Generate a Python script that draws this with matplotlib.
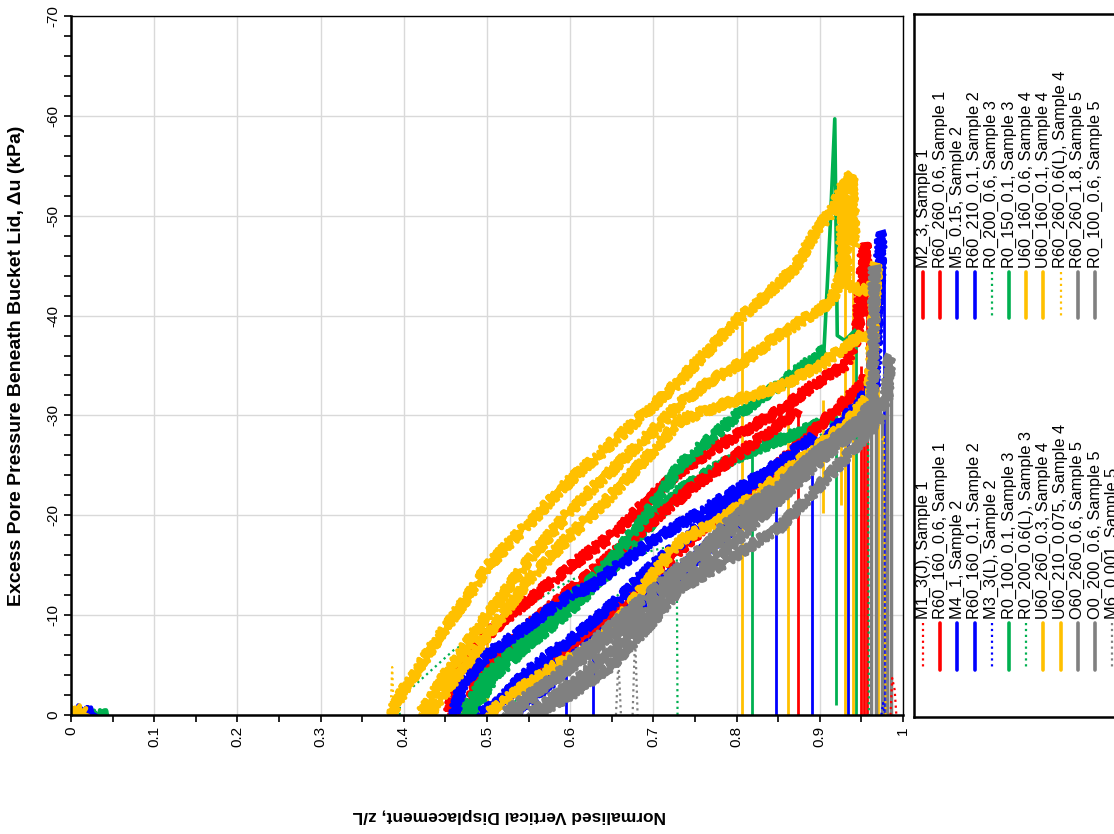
import numpy as np
import matplotlib
matplotlib.use('Agg')
import matplotlib.pyplot as plt

plt.rcParams['font.family'] = ['Liberation Sans', 'DejaVu Sans']
plt.rcParams['axes.unicode_minus'] = False

RED = '#FF0000'
BLUE = '#0000FF'
GREEN = '#00B050'
YELLOW = '#FFC000'
GREY = '#808080'
nan = np.nan

# ---- series (z/L, du kPa) ----
# yellow
u60_160_06_x = [0, 0.004, 0.012, 0.02, nan, 0.385, 0.39, 0.40, 0.42, 0.45, 0.48, 0.50, 0.53, 0.56, 0.60, 0.64,
                0.68, 0.72, 0.76, 0.80, 0.84, 0.87, 0.90, 0.915, 0.928, 0.938, 0.941]
u60_160_06_y = [-0.8, -0.3, -0.5, 0, nan, 0, -1.0, -2.5, -5.0, -8.8, -12.2, -14.8, -17.5, -20.0, -23.5, -26.5,
                -29.5, -32.5, -36.0, -39.5, -42.3, -44.8, -49.0, -50.5, -52.9, -54.1, -47.0]
u60_160_01_x = [0.42, 0.45, 0.50, 0.55, 0.60, 0.65, 0.70, 0.732, 0.77, 0.812, 0.85, 0.892, 0.915, 0.926, 0.929,
                0.932, 0.952, 0.965]
u60_160_01_y = [0, -4.0, -10.0, -15.5, -20.5, -24.5, -28.5, -31.2, -33.5, -35.6, -38.0, -40.2, -41.5, -44.0, -53.0,
                -43.0, -42.5, -43.0]
u60_210_0075_x = [0.43, 0.46, 0.50, 0.55, 0.60, 0.65, 0.70, 0.732, 0.78, 0.852, 0.90, 0.952, 0.958]
u60_210_0075_y = [0, -3.5, -8.0, -13.5, -18.0, -22.0, -26.5, -29.5, -31.0, -32.9, -35.0, -38.2, -37.5]
u60_260_03_x = [0.50, 0.53, 0.572, 0.62, 0.652, 0.69, 0.732, 0.78, 0.83, 0.892, 0.93, 0.96, 0.968]
u60_260_03_y = [0, -2.0, -4.5, -6.5, -8.8, -13.0, -17.5, -19.5, -22.5, -26.5, -29.0, -32.0, -45.2]
r60_260_06L_x = [0.384, 0.386, 0.388, nan, 0.975, 0.977, 0.979]
r60_260_06L_y = [0, -4.8, 0, nan, -27.5, -28.0, 0]

# red
r60_260_06_x = [0.455, 0.46, 0.47, 0.48, 0.50, 0.52, 0.55, 0.58, 0.61, 0.65, 0.70, 0.732, 0.77, 0.80, 0.852,
                0.90, 0.93, 0.945, 0.950, 0.954, 0.957]
r60_260_06_y = [0, -3.0, -5.0, -6.5, -8.0, -9.5, -11.5, -13.5, -15.5, -18.0, -22.0, -24.4, -26.5, -28.0, -30.5,
                -33.5, -35.0, -38.0, -43.0, -47.2, -40.0]
m2_3_x = [0.47, 0.50, 0.55, 0.60, 0.65, 0.70, 0.75, 0.80, 0.85, 0.874]
m2_3_y = [0, -5.0, -9.0, -12.5, -16.0, -19.5, -23.0, -26.0, -29.0, -30.5]
r60_160_06_x = [0.50, 0.55, 0.60, 0.65, 0.70, 0.75, 0.80, 0.85, 0.90, 0.95, 0.953]
r60_160_06_y = [0, -3.5, -7.0, -10.0, -14.0, -18.0, -21.5, -25.0, -29.0, -33.0, -34.0]
m1_3j_x = [0.985, 0.987, 0.990, 0.992]
m1_3j_y = [0, -3.7, -2.5, 0]

# green
r0_150_01_x = [0.47, 0.50, 0.53, 0.56, 0.60, 0.65, 0.70, 0.732, 0.80, 0.85, 0.905]
r0_150_01_y = [0, -4.0, -6.5, -8.5, -11.5, -15.5, -21.0, -25.0, -30.0, -33.0, -36.5]
r0_150_01_spike_x = [0.905, 0.912, 0.918, 0.921, 0.93, 0.942]
r0_150_01_spike_y = [-36.5, -48.0, -59.7, -38.0, -37.5, -38.5]
r0_100_01_x = [0, 0.045, nan, 0.48, 0.51, 0.552, 0.60, 0.652, 0.70, 0.732, 0.78, 0.819, 0.86, 0.89, 0.918]
r0_100_01_y = [0, 0, nan, 0, -4.0, -7.2, -10.5, -14.8, -19.5, -22.5, -25.0, -26.5, -27.8, -28.8, -30.0]
r0_200_06L_x = [0.395, 0.396, 0.40, 0.42, 0.44, 0.46, 0.48, 0.50, 0.52, 0.55, 0.60, 0.65, 0.70, 0.728, 0.729]
r0_200_06L_y = [0, -3.0, -2.0, -3.5, -5.0, -6.5, -7.5, -8.0, -9.5, -11.0, -13.5, -15.0, -16.5, -17.0, 0]
r0_200_06_x = [0.52, 0.60, 0.70, 0.80, 0.90, 0.958, 0.959]
r0_200_06_y = [0, -8.0, -15.0, -22.0, -28.0, -31.0, 0]

# blue
m5_015_x = [0.49, 0.54, 0.61, 0.66, 0.70, 0.72, 0.76, 0.80, 0.85, 0.90, 0.94, 0.965, 0.974]
m5_015_y = [0, -2.8, -6.2, -9.5, -12.5, -14.0, -16.5, -20.0, -23.0, -27.0, -30.0, -33.0, -48.4]
m4_1_x = [0.008, 0.013, 0.018, 0.026, 0.03, nan, 0.46, 0.47, 0.50, 0.55, 0.60, 0.628, 0.65, 0.70, 0.75, 0.80,
          0.847]
m4_1_y = [-0.2, -0.6, -0.3, -0.3, 0, nan, 0, -3.0, -6.0, -9.0, -12.0, -13.0, -14.5, -17.5, -20.0, -22.5, -25.0]
r60_160_01_x = [0.50, 0.55, 0.60, 0.65, 0.70, 0.75, 0.80, 0.85, 0.891]
r60_160_01_y = [0, -4.5, -7.5, -11.0, -15.0, -18.5, -22.0, -25.0, -28.0]
r60_210_01_x = [0.53, 0.56, 0.60, 0.65, 0.70, 0.75, 0.80, 0.85, 0.90, 0.934, 0.969]
r60_210_01_y = [0, -2.0, -5.0, -8.5, -12.0, -15.5, -19.0, -22.5, -27.0, -30.0, -33.5]
m3_3l_x = [0.455, 0.46, 0.47, 0.48, 0.49, 0.50, nan, 0.974, 0.976, 0.978]
m3_3l_y = [0, -2.0, -4.0, -5.0, -4.5, -6.0, nan, 0, -1.2, 0]

# grey
o60_260_06_x = [0.52, 0.55, 0.58, 0.612, 0.65, 0.69, 0.732, 0.78, 0.83, 0.892, 0.94, 0.961]
o60_260_06_y = [0, -2.0, -3.5, -5.5, -8.0, -10.5, -14.0, -17.5, -21.0, -26.0, -29.0, -31.0]
o0_200_06_x = [0.53, 0.57, 0.61, 0.65, 0.70, 0.75, 0.80, 0.85, 0.90, 0.95, 0.963, 0.966]
o0_200_06_y = [0, -3.0, -6.0, -9.0, -12.5, -16.0, -20.0, -23.0, -26.5, -29.5, -31.0, -44.9]
r60_260_18_x = [0.56, 0.60, 0.65, 0.70, 0.732, 0.78, 0.852, 0.90, 0.95, 0.975]
r60_260_18_y = [0, -2.0, -5.0, -9.5, -12.7, -15.0, -18.8, -23.0, -27.5, -30.0]
r0_100_06_x = [0.55, 0.60, 0.65, 0.70, 0.75, 0.80, 0.85, 0.90, 0.95, 0.98, 0.984]
r0_100_06_y = [0, -3.0, -6.5, -10.5, -14.0, -17.5, -21.5, -25.5, -29.0, -31.5, -36.0]
m6_0001_x = [0.655, 0.658, 0.661, nan, 0.675, 0.678, 0.681]
m6_0001_y = [0, -5.5, 0, nan, 0, -8.0, 0]

# sudden drops to zero seen as vertical lines: x, top, bottom
yellow_drop_x = [0.49, 0.50, 0.806, 0.862, 0.904, 0.926, 0.930, 0.940, 0.970]
yellow_drop_top = [-7.8, -11.0, -39.5, -38.5, -31.5, -32.0, -48.0, -50.0, -44.0]
yellow_drop_bot = [0, 0, 0, 0, -20.2, -21.0, 0, 0, 0]
red_drop_x = [0.465, 0.48, 0.874, 0.950, 0.953, 0.957]
red_drop_top = [-4.0, -6.0, -30.5, -35.0, -34.0, -40.0]
blue_drop_x = [0.595, 0.628, 0.847, 0.891, 0.934, 0.969, 0.977]
blue_drop_top = [-5.5, -9.0, -25.0, -28.0, -30.0, -33.5, -45.0]
green_drop_x = [0.819, 0.919, 0.944]
green_drop_top = [-27.0, -30.0, -38.5]
green_drop_bot = [0, -1.0, 0]
grey_drop_x = [0.961, 0.968, 0.975, 0.981, 0.986]
grey_drop_top = [-31.0, -44.0, -30.0, -31.5, -35.0]

# legend entries, two groups as in the picture
legend_lower = [
    ('M1_3(J), Sample 1', RED, ':'),
    ('R60_160_0.6, Sample 1', RED, '-'),
    ('M4_1, Sample 2', BLUE, '-'),
    ('R60_160_0.1, Sample 2', BLUE, '-'),
    ('M3_3(L), Sample 2', BLUE, ':'),
    ('R0_100_0.1, Sample 3', GREEN, '-'),
    ('R0_200_0.6(L), Sample 3', GREEN, ':'),
    ('U60_260_0.3, Sample 4', YELLOW, '-'),
    ('U60_210_0.075, Sample 4', YELLOW, '-'),
    ('O60_260_0.6, Sample 5', GREY, '-'),
    ('O0_200_0.6, Sample 5', GREY, '-'),
    ('M6_0.001, Sample 5', GREY, ':'),
]
legend_upper = [
    ('M2_3, Sample 1', RED, '-'),
    ('R60_260_0.6, Sample 1', RED, '-'),
    ('M5_0.15, Sample 2', BLUE, '-'),
    ('R60_210_0.1, Sample 2', BLUE, '-'),
    ('R0_200_0.6, Sample 3', GREEN, ':'),
    ('R0_150_0.1, Sample 3', GREEN, '-'),
    ('U60_160_0.6, Sample 4', YELLOW, '-'),
    ('U60_160_0.1, Sample 4', YELLOW, '-'),
    ('R60_260_0.6(L), Sample 4', YELLOW, ':'),
    ('R60_260_1.8, Sample 5', GREY, '-'),
    ('R0_100_0.6, Sample 5', GREY, '-'),
]

# drawing order (later on top); noisy traces get a sketch effect
series = [
    (r0_200_06L_x, r0_200_06L_y, GREEN, ':'),
    (r0_200_06_x, r0_200_06_y, GREEN, ':'),
    (m3_3l_x, m3_3l_y, BLUE, ':'),
    (m1_3j_x, m1_3j_y, RED, ':'),
    (r0_100_01_x, r0_100_01_y, GREEN, '-'),
    (r60_160_06_x, r60_160_06_y, RED, '-'),
    (m2_3_x, m2_3_y, RED, '-'),
    (r60_260_06_x, r60_260_06_y, RED, '-'),
    (r0_150_01_x, r0_150_01_y, GREEN, '-'),
    (r0_150_01_spike_x, r0_150_01_spike_y, GREEN, 'spike'),
    (m4_1_x, m4_1_y, BLUE, '-'),
    (r60_160_01_x, r60_160_01_y, BLUE, '-'),
    (r60_210_01_x, r60_210_01_y, BLUE, '-'),
    (m5_015_x, m5_015_y, BLUE, '-'),
    (u60_260_03_x, u60_260_03_y, YELLOW, '-'),
    (u60_210_0075_x, u60_210_0075_y, YELLOW, '-'),
    (u60_160_01_x, u60_160_01_y, YELLOW, '-'),
    (u60_160_06_x, u60_160_06_y, YELLOW, '-'),
    (r60_260_06L_x, r60_260_06L_y, YELLOW, ':'),
    (o60_260_06_x, o60_260_06_y, GREY, '-'),
    (o0_200_06_x, o0_200_06_y, GREY, '-'),
    (r60_260_18_x, r60_260_18_y, GREY, '-'),
    (r0_100_06_x, r0_100_06_y, GREY, '-'),
    (m6_0001_x, m6_0001_y, GREY, ':'),
]

fig = plt.figure(figsize=(11.14, 8.34), dpi=100)
W, H = 1114.0, 834.0
ax = fig.add_axes([71 / W, 1 - 715 / H, (903 - 71) / W, (715 - 16) / H])

# drops first, traces on top
ax.vlines(red_drop_x, red_drop_top, 0, color=RED, lw=2.0)
ax.vlines(green_drop_x, green_drop_top, green_drop_bot, color=GREEN, lw=2.0)
ax.vlines(blue_drop_x, blue_drop_top, 0, color=BLUE, lw=2.0)
ax.vlines(yellow_drop_x, yellow_drop_top, yellow_drop_bot, color=YELLOW, lw=2.0)
ax.vlines(grey_drop_x, grey_drop_top, 0, color=GREY, lw=2.5)

for xs, ys, c, ls in series:
    if ls == ':':
        ax.plot(xs, ys, color=c, ls=':', lw=1.6)
    elif ls == 'spike':
        ax.plot(xs, ys, color=c, lw=2.6)
    else:
        line, = ax.plot(xs, ys, color=c, lw=3.2, solid_joinstyle='round')
        line.set_sketch_params(scale=5, length=2.5, randomness=2)

ax.set_xlim(0, 1)
ax.set_ylim(0, -70)
ax.set_xticks(np.arange(0, 1.01, 0.1))
ax.set_xticks(np.arange(0, 1.01, 0.05), minor=True)
ax.set_xticklabels(['0', '0.1', '0.2', '0.3', '0.4', '0.5', '0.6', '0.7', '0.8', '0.9', '1'])
ax.set_yticks(np.arange(0, -71, -10))
ax.set_yticks(np.arange(0, -71, -2), minor=True)
ax.tick_params(axis='both', which='major', direction='out', length=5, width=1.2, labelsize=11, pad=3)
ax.tick_params(axis='both', which='minor', direction='out', length=5, width=1.2)
ax.tick_params(axis='x', labelrotation=90)
ax.tick_params(axis='y', labelrotation=90)
for lab in ax.get_yticklabels():
    lab.set_va('center')
ax.grid(True, which='major', color='#D9D9D9', lw=1.0)
ax.set_axisbelow(True)
for s in ['left', 'bottom']:
    ax.spines[s].set_linewidth(1.8)
for s in ['top', 'right']:
    ax.spines[s].set_linewidth(1.0)

fig.text(17 / W, 1 - 366 / H, 'Excess Pore Pressure Beneath Bucket Lid, \u0394u (kPa)', rotation=90,
         ha='center', va='center', fontsize=14, fontweight='bold')
fig.text(509 / W, 1 - 815 / H, 'Normalised Vertical Displacement, z/L', rotation=180,
         ha='center', va='center', fontsize=12.5, fontweight='bold')

# legend box drawn by hand (rotated entries)
lax = fig.add_axes([914 / W, 1 - 717 / H, (1200 - 914) / W, (717 - 14) / H])
lax.set_xlim(914, 1200)
lax.set_ylim(717, 14)
lax.set_xticks([])
lax.set_yticks([])
for s in lax.spines.values():
    s.set_linewidth(1.8)
step = 17.2
for group, y_line_top, y_line_bot in [(legend_lower, 623, 670), (legend_upper, 272, 318)]:
    for i, (lab, c, ls) in enumerate(group):
        xp = 923 + i * step
        if ls == ':':
            lax.plot([xp, xp], [y_line_top, y_line_bot], color=c, ls=':', lw=1.6)
        else:
            lax.plot([xp, xp], [y_line_top, y_line_bot], color=c, lw=2.6, solid_capstyle='round')
        lax.text(xp, y_line_top - 4, lab, rotation=90, rotation_mode='anchor', ha='left', va='center',
                 fontsize=11.8)

fig.savefig('out.png', dpi=100)
